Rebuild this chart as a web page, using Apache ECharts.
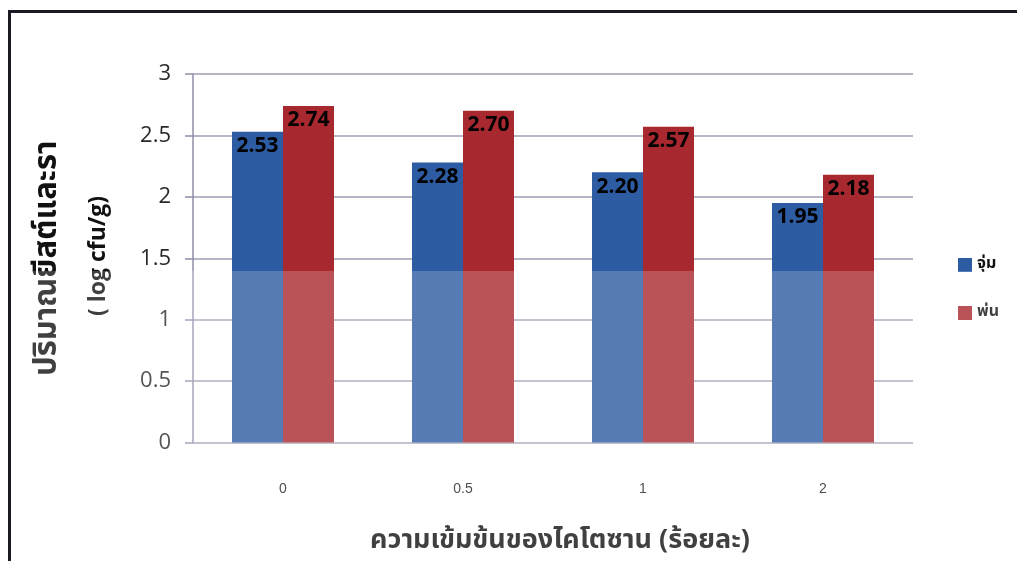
<!DOCTYPE html>
<html>
<head>
<meta charset="utf-8">
<style>
  html, body { margin: 0; padding: 0; background: #ffffff; }
  #chart { width: 1017px; height: 561px; }
</style>
<script src="https://cdn.jsdelivr.net/npm/echarts@6/dist/echarts.min.js"></script>
</head>
<body>
<div id="chart"></div>
<script>
// Chitosan concentration (%) on the category axis
const categories = ['0', '0.5', '1', '2'];
// Yeast and mould counts (log cfu/g) for each treatment
const dipValues = [2.53, 2.28, 2.20, 1.95];   // จุ่ม
const sprayValues = [2.74, 2.70, 2.57, 2.18]; // พ่น
const seriesNames = ['จุ่ม', 'พ่น'];

const thaiFont = '"Noto Sans Thai", "Noto Sans", "DejaVu Sans", sans-serif';
const numFont = '"Open Sans", "Liberation Sans", sans-serif';

const chart = echarts.init(document.getElementById('chart'), null, { renderer: 'canvas' });

const valueLabel = {
  show: true,
  position: 'insideTop',
  distance: 4,
  formatter: p => p.value.toFixed(2),
  color: '#000000',
  fontWeight: 'bold',
  fontSize: 21,
  fontFamily: numFont
};

chart.setOption({
  animation: false,
  backgroundColor: '#ffffff',
  grid: { left: 193, right: 104, top: 74, bottom: 118.5, containLabel: false, outerBoundsMode: 'none' },
  legend: {
    orient: 'vertical',
    left: 953,
    top: 252,
    itemWidth: 14,
    itemHeight: 14,
    itemGap: 32,
    icon: 'rect',
    textStyle: { fontFamily: thaiFont, fontSize: 16, fontWeight: 'bold', color: '#111111' },
    data: seriesNames
  },
  xAxis: {
    type: 'category',
    data: categories,
    axisLine: { show: false },
    axisTick: { show: false },
    axisLabel: { margin: 40, fontSize: 14, color: '#222222', fontFamily: '"Liberation Sans", Arial, sans-serif' },
    name: 'ความเข้มข้นของไคโตซาน (ร้อยละ)',
    nameLocation: 'middle',
    nameGap: 87,
    nameTextStyle: { fontFamily: thaiFont, fontSize: 27, fontWeight: 'bold', color: '#111111', padding: [0, 0, 0, 14] }
  },
  yAxis: {
    type: 'value',
    min: 0,
    max: 3,
    interval: 0.5,
    axisLine: { show: true, lineStyle: { color: '#8e8ea8', width: 1.5 } },
    axisTick: { show: true, length: 8, lineStyle: { color: '#8e8ea8', width: 1.5 } },
    axisLabel: { margin: 22, fontSize: 22, color: '#2a2a2a', fontFamily: numFont },
    splitLine: { show: true, lineStyle: { color: '#9d9db2', width: 1.5 } },
    name: 'ปริมาณยีสต์และรา',
    nameLocation: 'middle',
    nameGap: 128,
    nameRotate: 90,
    nameTextStyle: { fontFamily: thaiFont, fontSize: 31, fontWeight: 'bold', color: '#111111' }
  },
  series: [
    {
      name: seriesNames[0],
      type: 'bar',
      data: dipValues,
      barWidth: 51,
      barGap: '0%',
      itemStyle: { color: '#2d5ca3' },
      label: valueLabel
    },
    {
      name: seriesNames[1],
      type: 'bar',
      data: sprayValues,
      barWidth: 51,
      barGap: '0%',
      itemStyle: { color: '#a8282f' },
      label: valueLabel
    }
  ],
  graphic: [
    // second line of the y-axis title (unit)
    {
      type: 'text',
      x: 98,
      y: 256,
      rotation: Math.PI / 2,
      style: {
        text: '( log cfu/g)',
        font: 'bold 23px ' + numFont,
        fill: '#111111',
        align: 'center',
        verticalAlign: 'middle'
      }
    },
    // pale band over the lower part of the page
    {
      type: 'rect',
      z: 100,
      silent: true,
      shape: { x: 0, y: 271, width: 1017, height: 290 },
      style: { fill: 'rgba(255,255,255,0.2)' }
    },
    // frame around the figure
    {
      type: 'polyline',
      z: 101,
      shape: { points: [[9.5, 561], [9.5, 11.5], [1017, 11.5]] },
      style: { stroke: '#1a1a22', lineWidth: 3, fill: null }
    }
  ]
});
</script>
</body>
</html>
